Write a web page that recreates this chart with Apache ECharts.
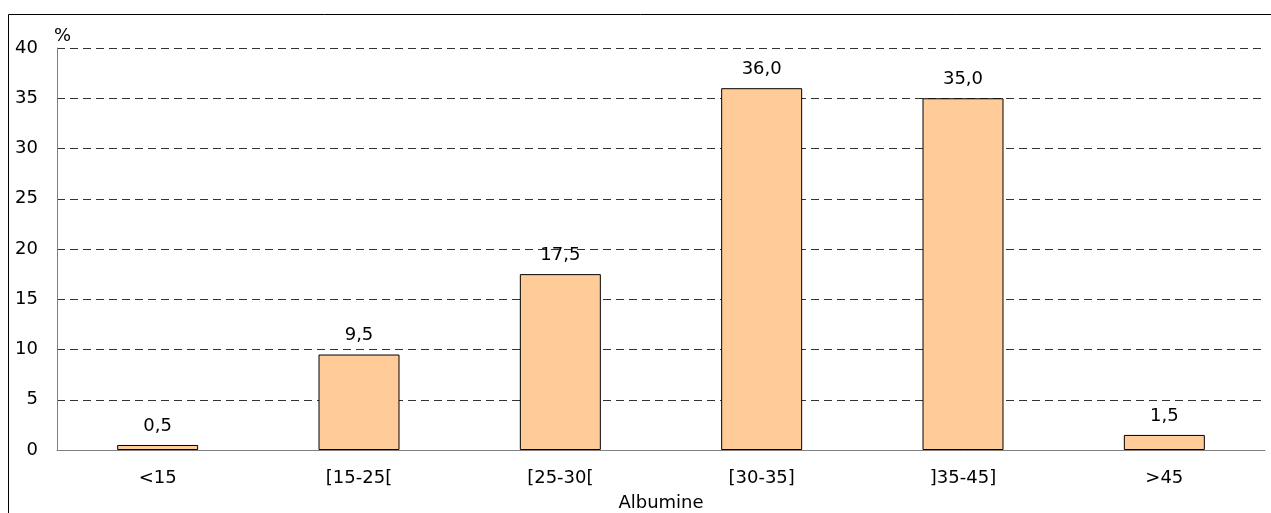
<!DOCTYPE html>
<html>
<head>
<meta charset="utf-8">
<script src="https://cdn.jsdelivr.net/npm/echarts@6/dist/echarts.min.js"></script>
<style>
  html, body { margin: 0; padding: 0; background: #fff; }
  #chart { width: 1271px; height: 513px; }
</style>
</head>
<body>
<div id="chart"></div>
<script>
// Albumine distribution (%)
const categories = ['<15', '[15-25[', '[25-30[', '[30-35]', ']35-45]', '>45'];
const percentages = [0.5, 9.5, 17.5, 36.0, 35.0, 1.5];
const yTicks = { min: 0, max: 40, interval: 5 };

const FONT = 'DejaVu Sans';
const FS = 18;
const chart = echarts.init(document.getElementById('chart'), null, { renderer: 'canvas' });

chart.setOption({
  animation: false,
  backgroundColor: '#fff',
  textStyle: { fontFamily: FONT },
  grid: { left: 57, right: 6, top: 48, bottom: 63, containLabel: false, outerBoundsMode: 'none' },
  graphic: [
    {
      type: 'rect',
      shape: { x: 8.5, y: 14.5, width: 1280, height: 520 },
      style: { fill: 'none', stroke: '#000', lineWidth: 1 },
      silent: true
    }
  ],
  xAxis: {
    type: 'category',
    data: categories,
    name: 'Albumine',
    nameLocation: 'middle',
    nameGap: 44,
    nameTextStyle: { color: '#000', fontSize: FS, fontFamily: FONT },
    axisLine: { lineStyle: { color: '#808080', width: 1 } },
    axisTick: { show: false },
    axisLabel: { color: '#000', fontSize: FS, fontFamily: FONT, margin: 19 }
  },
  yAxis: {
    type: 'value',
    min: yTicks.min, max: yTicks.max, interval: yTicks.interval,
    name: '%',
    nameGap: 3,
    nameTextStyle: { color: '#000', fontSize: FS, fontFamily: FONT, align: 'left', padding: [0, 0, 0, -3] },
    axisLine: { show: true, lineStyle: { color: '#808080', width: 1 } },
    axisTick: { show: false },
    axisLabel: { color: '#000', fontSize: FS, fontFamily: FONT, margin: 19 },
    splitLine: { show: true, lineStyle: { color: '#333', type: [8, 5], width: 1 } }
  },
  series: [{
    type: 'bar',
    data: percentages,
    barWidth: 81,
    itemStyle: { color: '#FFCC99', borderColor: '#000', borderWidth: 1 },
    label: {
      show: true,
      position: 'top',
      distance: 10,
      color: '#000',
      fontSize: FS,
      fontFamily: FONT,
      formatter: p => p.value.toFixed(1).replace('.', ',')
    }
  }]
});
</script>
</body>
</html>
